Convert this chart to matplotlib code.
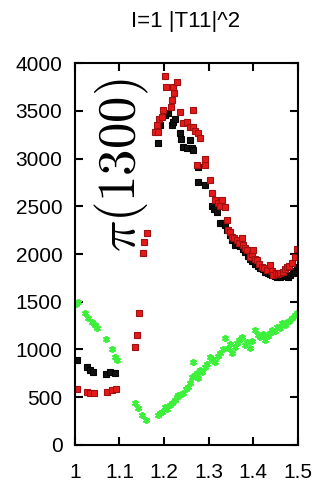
import matplotlib
matplotlib.use("Agg")
import matplotlib.pyplot as plt

plt.rcParams["mathtext.fontset"] = "cm"

# black squares
black_x = [1.004, 1.027, 1.034, 1.040, 1.070, 1.078, 1.090,
           1.186, 1.191, 1.202, 1.209, 1.217, 1.220, 1.224, 1.235, 1.238, 1.242,
           1.251, 1.258, 1.262, 1.265, 1.276, 1.276, 1.291, 1.307, 1.312, 1.318,
           1.325, 1.330, 1.336, 1.342, 1.348, 1.353, 1.359, 1.365, 1.370, 1.376,
           1.381, 1.387, 1.392, 1.398, 1.404, 1.410, 1.415, 1.421, 1.426, 1.432,
           1.437, 1.443, 1.448, 1.454, 1.460, 1.466, 1.471, 1.477, 1.482, 1.488,
           1.493, 1.498]
black_y = [890, 815, 785, 760, 745, 765, 755,
           3160, 3350, 3455, 3475, 3350, 3380, 3420, 3265, 3205, 3120,
           3110, 3195, 3110, 3090, 2910, 2755, 2720, 2500, 2470, 2440,
           2330, 2330, 2300, 2250, 2200, 2150, 2100, 2110, 2080, 2050,
           2020, 1980, 1950, 1930, 1900, 1880, 1850, 1840, 1810, 1800,
           1790, 1780, 1770, 1760, 1760, 1780, 1770, 1760, 1780, 1800,
           1820, 1860]

# red squares
red_x = [1.004, 1.027, 1.034, 1.043, 1.072, 1.083, 1.092,
         1.135, 1.139, 1.143, 1.152, 1.155, 1.161,
         1.179, 1.184, 1.186, 1.188, 1.195, 1.197, 1.202, 1.204, 1.215, 1.217,
         1.220, 1.222, 1.229, 1.235, 1.242, 1.251, 1.258, 1.265, 1.265, 1.270,
         1.276, 1.280, 1.274, 1.291, 1.291, 1.303, 1.307, 1.314, 1.320, 1.325,
         1.330, 1.336, 1.341, 1.343, 1.348, 1.352, 1.357, 1.363, 1.368, 1.374,
         1.377, 1.381, 1.386, 1.392, 1.396, 1.399, 1.404, 1.408, 1.413, 1.419,
         1.424, 1.430, 1.437, 1.441, 1.444, 1.450, 1.455, 1.460, 1.466, 1.470,
         1.475, 1.480, 1.487, 1.493, 1.498]
red_y = [585, 555, 545, 545, 555, 575, 585,
         1025, 1150, 1380, 2010, 2125, 2220,
         3280, 3350, 3280, 3420, 3435, 3510, 3865, 3750, 3540, 3610,
         3750, 3685, 3800, 3490, 3370, 3380, 3330, 3510, 3330, 3290,
         3265, 3215, 2930, 2930, 3000, 2775, 2640, 2565, 2540, 2500,
         2565, 2490, 2355, 2250, 2230, 2180, 2170, 2145, 2120, 2165,
         2095, 2060, 2040, 1970, 2000, 2040, 1950, 1935, 1900, 1865,
         1850, 1830, 1885, 1820, 1780, 1800, 1790, 1800, 1810, 1840,
         1865, 1880, 1905, 1970, 2050]

# green stars
green_x = [1.002, 1.006, 1.022, 1.029, 1.038, 1.045, 1.049, 1.069, 1.083,
           1.090, 1.094,
           1.135, 1.141, 1.150, 1.159,
           1.186, 1.190, 1.195, 1.202, 1.206, 1.213, 1.218, 1.224, 1.229,
           1.231, 1.236, 1.242, 1.248, 1.253, 1.258, 1.262, 1.265, 1.269,
           1.274, 1.276, 1.280, 1.285, 1.291, 1.297, 1.303, 1.308, 1.314,
           1.320, 1.325, 1.331, 1.336, 1.343, 1.348, 1.352, 1.358, 1.363,
           1.369, 1.374, 1.381, 1.386, 1.392, 1.398, 1.404, 1.410, 1.415,
           1.421, 1.426, 1.432, 1.437, 1.443, 1.448, 1.453, 1.459, 1.464,
           1.470, 1.475, 1.481, 1.487, 1.493, 1.498]
green_y = [1475, 1500, 1380, 1330, 1290, 1255, 1220, 1110, 1005,
           920, 890,
           440, 385, 315, 260,
           315, 330, 345, 400, 380, 420, 440, 470, 500,
           525, 520, 545, 590, 610, 650, 710, 870, 730,
           755, 700, 785, 760, 815, 850, 920, 900, 870,
           930, 965, 1000, 1120, 1015, 1060, 965, 1030, 1070,
           1100, 1130, 1045, 1080, 1015, 1090, 1205, 1150, 1130,
           1160, 1100, 1140, 1170, 1200, 1190, 1235, 1220, 1275,
           1260, 1290, 1300, 1330, 1360, 1380]

xticks = [1, 1.1, 1.2, 1.3, 1.4, 1.5]
xticklabels = ["1", "1.1", "1.2", "1.3", "1.4", "1.5"]
yticks = [0, 500, 1000, 1500, 2000, 2500, 3000, 3500, 4000]

fig = plt.figure(figsize=(3.2, 4.9), dpi=100)
ax = fig.add_axes([0.234, 0.092, 0.697, 0.779])

ax.plot(black_x, black_y, ls="none", marker="s", ms=4.8, mfc="#111111",
        mec="#000000", mew=0.8)
ax.plot(red_x, red_y, ls="none", marker="s", ms=4.8, mfc="#e41a1a",
        mec="#a01010", mew=0.8)
ax.plot(green_x, green_y, ls="none", marker=(6, 2, 0), ms=5, color="#3cf03c",
        mew=1.3)

ax.set_xlim(1, 1.5)
ax.set_ylim(0, 4000)
ax.set_xticks(xticks)
ax.set_xticklabels(xticklabels)
ax.set_yticks(yticks)

for s in ax.spines.values():
    s.set_linewidth(1.5)
ax.tick_params(direction="in", length=6, width=1.5, top=True, right=True,
               labelsize=15)
ax.tick_params(axis="x", pad=13)
ax.tick_params(axis="y", pad=9)
for lab in ax.get_xticklabels() + ax.get_yticklabels():
    lab.set_family("Liberation Sans")

fig.text(0.58, 1 - 21 / 490, "I=1 |T11|^2", ha="center", va="center",
         fontsize=16, family="Liberation Sans")

ax.text(1.105, 2930, r"$\pi(1300)$", rotation=90, ha="center", va="center",
        fontsize=38)

fig.savefig("out.png", dpi=100)
